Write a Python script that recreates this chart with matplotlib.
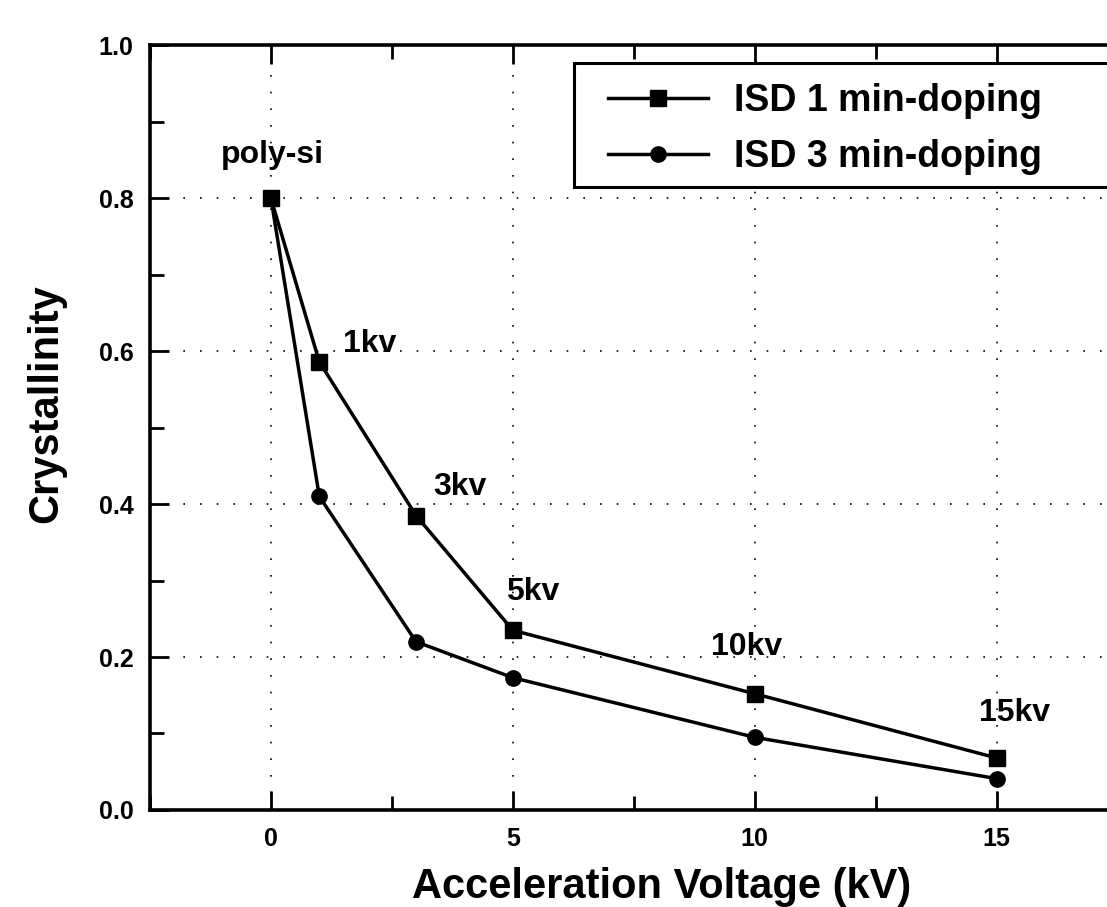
import matplotlib.pyplot as plt
from matplotlib.patches import Rectangle
from matplotlib.ticker import MultipleLocator

# data
voltage = [0, 1, 3, 5, 10, 15]
isd_1min = [0.800, 0.586, 0.385, 0.235, 0.152, 0.068]
isd_3min = [0.800, 0.410, 0.220, 0.173, 0.095, 0.041]

point_labels = ['poly-si', '1kv', '3kv', '5kv', '10kv', '15kv']
label_x = [0.04, 1.49, 3.35, 4.86, 9.09, 14.63]
label_y = [0.856, 0.609, 0.422, 0.285, 0.213, 0.127]

plt.rcParams['font.family'] = ['Liberation Sans', 'DejaVu Sans']
plt.rcParams['font.weight'] = 'bold'

W, H = 1107, 907
fig = plt.figure(figsize=(W / 100, H / 100), dpi=100)
ax = fig.add_axes([0.1355, 0.107, 0.874, 0.843])

ax.plot(voltage, isd_1min, 's-', color='black', lw=2.5, ms=12, label='ISD 1 min-doping')
ax.plot(voltage, isd_3min, 'o-', color='black', lw=2.5, ms=11, label='ISD 3 min-doping')

for txt, x, y in zip(point_labels, label_x, label_y):
    ax.text(x, y, txt, fontsize=23, fontweight='bold',
            ha='center' if txt == 'poly-si' else 'left', va='center')

ax.set_xlim(-2.5, 17.5)
ax.set_ylim(0, 1.0)
ax.xaxis.set_major_locator(MultipleLocator(5))
ax.xaxis.set_minor_locator(MultipleLocator(2.5))
ax.yaxis.set_major_locator(MultipleLocator(0.2))
ax.yaxis.set_minor_locator(MultipleLocator(0.1))
ax.set_yticks([0, 0.2, 0.4, 0.6, 0.8, 1.0], ['0.0', '0.2', '0.4', '0.6', '0.8', '1.0'])

ax.tick_params(which='both', direction='in', top=True, right=False, width=2, labelsize=18, pad=12)
ax.tick_params(which='major', length=14)
ax.tick_params(which='minor', length=10)
ax.grid(True, which='major', color='black', linestyle=(0, (1, 9)), lw=1.2)

for s in ax.spines.values():
    s.set_linewidth(2.6)

ax.set_xlabel('Acceleration Voltage (kV)', fontsize=30, fontweight='bold')
ax.set_ylabel('Crystallinity', fontsize=30, fontweight='bold')
ax.xaxis.set_label_coords(0.529, -0.074)
ax.yaxis.set_label_coords(-0.087, 0.532)

# legend box runs off the right edge, like the cropped original
box = Rectangle((574 / W, 1 - 187 / H), (1125 - 574) / W, 124 / H,
                transform=fig.transFigure, clip_on=False, facecolor='white',
                edgecolor='black', lw=2.2, zorder=4)
ax.add_patch(box)
leg = ax.legend(loc='upper left', bbox_to_anchor=(608 / W, 1 - 83 / H),
                bbox_transform=fig.transFigure, borderaxespad=0, borderpad=0,
                fontsize=27, frameon=False, handlelength=2.67,
                labelspacing=0.53, handletextpad=0.69)
leg.set_zorder(5)

fig.savefig('out.png', dpi=100)
